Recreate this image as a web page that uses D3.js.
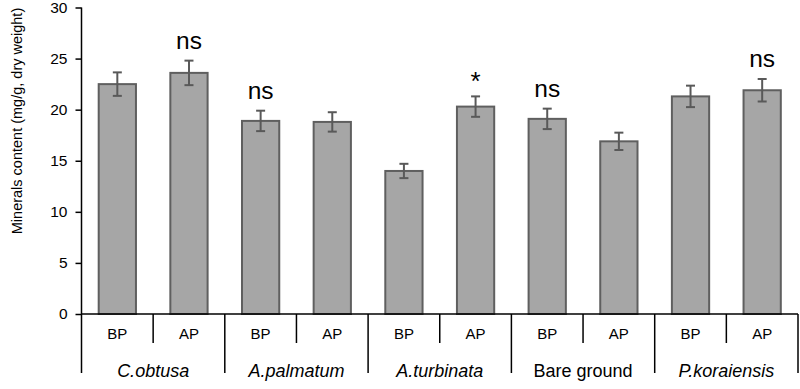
<!DOCTYPE html>
<html>
<head>
<meta charset="utf-8">
<script src="https://cdn.jsdelivr.net/npm/d3@7/dist/d3.min.js"></script>
<style>
  html, body { margin: 0; padding: 0; background: #fff; }
  svg { display: block; font-family: "Liberation Sans", Arial, sans-serif; }
</style>
</head>
<body>
<svg id="chart" width="800" height="389"></svg>
<script>
const groups = ["C.obtusa", "A.palmatum", "A.turbinata", "Bare ground", "P.koraiensis"];
const groupItalic = [true, true, true, false, true];
const periods = ["BP", "AP"];
const means = [22.5, 23.6, 18.9, 18.8, 14.0, 20.3, 19.1, 16.9, 21.3, 21.9];
const errors = [1.15, 1.2, 1.0, 0.95, 0.7, 1.0, 1.0, 0.85, 1.05, 1.1];
const marks = ["", "ns", "ns", "", "", "*", "ns", "", "", "ns"];
const yTicks = [0, 5, 10, 15, 20, 25, 30];

(function () {
const svg = d3.select("#chart");
const mLeft = 81.5, mRight = 798, mTop = 7.5, mBase = 314;

const items = [];
groups.forEach((g, gi) => periods.forEach((p, pi) => {
  const i = gi * 2 + pi;
  items.push({ key: i, group: g, period: p, mean: means[i], err: errors[i], mark: marks[i] });
}));

const x = d3.scaleBand().domain(items.map(d => d.key)).range([mLeft, mRight])
  .paddingInner(0.48).paddingOuter(0.24);
const xs = d3.scaleBand().domain(items.map(d => d.key)).range([mLeft, mRight]).padding(0);
const xg = d3.scaleBand().domain(groups).range([mLeft, mRight]).padding(0);
const y = d3.scaleLinear().domain([0, 30]).range([mBase, mTop]);

// y axis
const yAxis = svg.append("g").attr("transform", `translate(${mLeft},0)`)
  .call(d3.axisLeft(y).tickValues(yTicks).tickSize(6).tickPadding(8).tickSizeOuter(0));
yAxis.select(".domain").remove();
yAxis.selectAll(".tick line").attr("stroke", "#000").attr("stroke-width", 1.5);
yAxis.selectAll(".tick text").attr("font-size", 15.5).attr("fill", "#000")
  .attr("font-family", "Liberation Sans, Arial, sans-serif");

svg.append("line").attr("x1", mLeft).attr("x2", mLeft).attr("y1", y(30)).attr("y2", 373)
  .attr("stroke", "#000").attr("stroke-width", 1.5);

// bars
svg.append("g").selectAll("rect").data(items).join("rect")
  .attr("x", d => x(d.key)).attr("width", x.bandwidth())
  .attr("y", d => y(d.mean)).attr("height", d => y(0) - y(d.mean))
  .attr("fill", "#a6a6a6").attr("stroke", "#5f5f5f").attr("stroke-width", 2);

// error bars
const eb = svg.append("g").attr("stroke", "#595959").attr("stroke-width", 2);
items.forEach(d => {
  const cx = x(d.key) + x.bandwidth() / 2;
  eb.append("line").attr("x1", cx).attr("x2", cx).attr("y1", y(d.mean + d.err)).attr("y2", y(d.mean - d.err));
  eb.append("line").attr("x1", cx - 4.5).attr("x2", cx + 4.5).attr("y1", y(d.mean + d.err)).attr("y2", y(d.mean + d.err));
  eb.append("line").attr("x1", cx - 4.5).attr("x2", cx + 4.5).attr("y1", y(d.mean - d.err)).attr("y2", y(d.mean - d.err));
});

// significance marks
svg.append("g").selectAll("text").data(items.filter(d => d.mark)).join("text")
  .attr("x", d => x(d.key) + x.bandwidth() / 2)
  .attr("y", d => y(d.mean + d.err) - (d.mark === "*" ? 6 : 12))
  .attr("text-anchor", "middle").attr("font-size", d => d.mark === "*" ? 26 : 24.5).attr("fill", "#000")
  .text(d => d.mark);

// x axis baseline
svg.append("line").attr("x1", mLeft).attr("x2", mRight).attr("y1", mBase).attr("y2", mBase)
  .attr("stroke", "#000").attr("stroke-width", 1.5);

// separators
const sep = svg.append("g").attr("stroke", "#000").attr("stroke-width", 1.5);
items.forEach(d => {
  if (d.period === "AP") {
    const sx = xs(d.key);
    sep.append("line").attr("x1", sx).attr("x2", sx).attr("y1", mBase).attr("y2", 343);
  }
});
groups.forEach(g => {
  const gx = xg(g) + xg.bandwidth();
  sep.append("line").attr("x1", gx).attr("x2", gx).attr("y1", mBase).attr("y2", 373);
});

// period labels
svg.append("g").selectAll("text").data(items).join("text")
  .attr("x", d => xs(d.key) + xs.bandwidth() / 2).attr("y", 338.5)
  .attr("text-anchor", "middle").attr("font-size", 15).attr("fill", "#000")
  .text(d => d.period);

// group labels
svg.append("g").selectAll("text").data(groups).join("text")
  .attr("x", g => xg(g) + xg.bandwidth() / 2).attr("y", 377)
  .attr("text-anchor", "middle").attr("font-size", 18).attr("fill", "#000")
  .attr("font-style", (g, i) => groupItalic[i] ? "italic" : "normal")
  .text(g => g);

// y label
svg.append("text").attr("transform", "translate(22,121) rotate(-90)")
  .attr("text-anchor", "middle").attr("font-size", 14.5).attr("fill", "#000")
  .text("Minerals content (mg/g, dry weight)");
})();
</script>
</body>
</html>
